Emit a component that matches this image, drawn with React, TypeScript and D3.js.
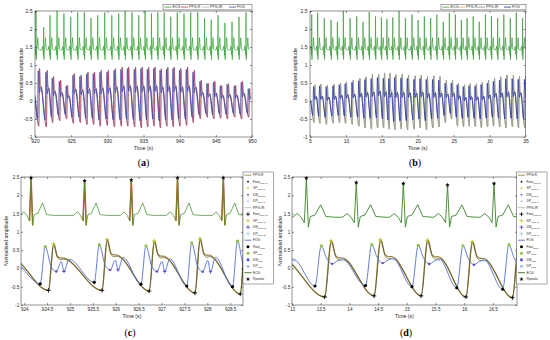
import React, { useEffect, useRef } from 'react';
import * as d3 from 'd3';

type Pt = [number, number];

// ---------- panel (a): 920-950 s ----------
const aRTimes = [919.2, 920.14, 921.2, 922.07, 923.05, 924.0, 924.94, 925.9, 926.82, 927.74, 928.67, 929.64, 930.62, 931.57, 932.46, 933.41, 934.34, 935.22, 936.1, 936.98, 937.86, 938.76, 939.67, 940.6, 941.53, 942.5, 943.45, 944.36, 945.3, 946.25, 947.24, 948.2, 949.17];
const aRAmps = [2.4, 2.5, 2.05, 2.38, 2.5, 2.43, 2.34, 2.46, 2.46, 2.3, 2.38, 2.46, 2.38, 2.43, 2.5, 2.46, 2.38, 2.5, 2.43, 2.46, 2.46, 2.34, 2.46, 2.43, 2.46, 2.46, 2.3, 2.26, 2.38, 2.17, 2.2, 2.34, 2.46];
const aPpgPeaks = [0.55, 0.9, 0.85, 0.68, 0.58, 0.44, 0.76, 0.72, 0.8, 0.8, 0.85, 0.85, 0.9, 0.94, 0.94, 0.94, 0.94, 0.94, 0.94, 0.9, 0.94, 0.94, 0.9, 0.94, 0.85, 0.58, 0.5, 0.55, 0.44, 0.48, 0.44, 0.55, 0.35];
const aPpgFeet = [-0.6, -0.7, -0.72, -0.6, -0.55, -0.5, -0.62, -0.6, -0.65, -0.65, -0.7, -0.68, -0.72, -0.7, -0.7, -0.72, -0.75, -0.72, -0.7, -0.75, -0.7, -0.72, -0.7, -0.68, -0.6, -0.5, -0.45, -0.5, -0.48, -0.5, -0.45, -0.5, -0.45];
const aFogPeaks = [0.5, 0.84, 0.8, 0.64, 0.55, 0.42, 0.72, 0.68, 0.75, 0.76, 0.8, 0.8, 0.85, 0.88, 0.9, 0.88, 0.9, 0.88, 0.9, 0.86, 0.88, 0.9, 0.85, 0.88, 0.8, 0.55, 0.48, 0.52, 0.42, 0.46, 0.42, 0.52, 0.34];
const aFogFeet = [-0.45, -0.5, -0.52, -0.45, -0.4, -0.38, -0.45, -0.45, -0.48, -0.48, -0.52, -0.5, -0.52, -0.52, -0.5, -0.52, -0.55, -0.52, -0.5, -0.55, -0.52, -0.52, -0.5, -0.5, -0.45, -0.38, -0.35, -0.38, -0.36, -0.38, -0.35, -0.38, -0.35];
const aTicks = [920, 925, 930, 935, 940, 945, 950];

// ---------- panel (b): 5-35 s ----------
const bRTimes = [4.4, 5.24, 6.07, 6.99, 7.93, 8.81, 9.64, 10.58, 11.51, 12.38, 13.25, 14.12, 14.94, 15.71, 16.52, 17.4, 18.28, 19.2, 20.05, 20.92, 21.8, 22.66, 23.55, 24.4, 25.23, 26.07, 26.87, 27.72, 28.56, 29.42, 30.26, 31.12, 31.98, 32.88, 33.72, 34.6];
const bRAmps = [2.4, 2.4, 2.45, 2.3, 2.25, 2.2, 2.5, 2.3, 2.35, 2.2, 2.47, 2.35, 2.32, 2.28, 2.32, 2.5, 2.3, 2.4, 2.25, 2.35, 2.3, 2.4, 2.2, 2.45, 2.4, 2.25, 2.3, 2.35, 2.2, 2.4, 2.35, 2.3, 2.4, 2.3, 2.45, 2.3];
const bPpgPeaks = [0.3, 0.45, 0.47, 0.44, 0.47, 0.5, 0.53, 0.58, 0.63, 0.67, 0.75, 0.75, 0.78, 0.77, 0.73, 0.74, 0.72, 0.7, 0.72, 0.68, 0.7, 0.68, 0.58, 0.58, 0.5, 0.45, 0.48, 0.48, 0.52, 0.58, 0.63, 0.67, 0.72, 0.72, 0.68, 0.7];
const bPpgFeet = [-0.55, -0.6, -0.62, -0.65, -0.62, -0.6, -0.62, -0.65, -0.7, -0.75, -0.78, -0.75, -0.75, -0.78, -0.8, -0.78, -0.8, -0.78, -0.75, -0.8, -0.75, -0.72, -0.6, -0.5, -0.7, -0.72, -0.7, -0.72, -0.75, -0.72, -0.7, -0.72, -0.75, -0.72, -0.75, -0.75];
const bFogPeaks = [0.25, 0.4, 0.42, 0.4, 0.42, 0.45, 0.48, 0.52, 0.56, 0.6, 0.62, 0.65, 0.63, 0.62, 0.65, 0.64, 0.63, 0.6, 0.62, 0.6, 0.6, 0.58, 0.5, 0.5, 0.45, 0.4, 0.42, 0.42, 0.46, 0.5, 0.55, 0.58, 0.62, 0.62, 0.6, 0.6];
const bFogFeet = [-0.45, -0.4, -0.42, -0.45, -0.42, -0.4, -0.42, -0.45, -0.45, -0.48, -0.48, -0.47, -0.5, -0.53, -0.57, -0.55, -0.55, -0.52, -0.5, -0.55, -0.5, -0.48, -0.4, -0.35, -0.45, -0.48, -0.45, -0.48, -0.5, -0.48, -0.45, -0.48, -0.5, -0.48, -0.5, -0.5];
const bTicks = [5, 10, 15, 20, 25, 30, 35];

// ---------- panel (c): zoom on 924-928.8 s ----------
const cRTimes = [923.1, 924.15, 925.32, 926.34, 927.35, 928.35];
const cRAmps = [2.4, 2.48, 2.4, 2.42, 2.48, 2.48];
const cFogFootT = [923.07, 924.35, 925.53, 926.55, 927.55, 928.55];
const cFogLow = [-0.4, -0.42, -0.38, -0.43, -0.48, -0.5];
const cFogHigh = [0.6, 0.6, 0.65, 0.62, 0.7, 0.75];
const cPpgFootT = [923.4, 924.53, 925.7, 926.73, 927.73, 928.72];
const cPpgLow = [-0.6, -0.6, -0.6, -0.62, -0.67, -0.7];
const cPpgHigh = [0.7, 0.67, 0.79, 0.75, 0.81, 0.8];
const cTicks = [924, 924.5, 925, 925.5, 926, 926.5, 927, 927.5, 928, 928.5];

// ---------- panel (d): zoom on 13-16.9 s ----------
const dRTimes = [12.4, 13.25, 14.12, 14.94, 15.71, 16.52];
const dRAmps = [2.35, 2.47, 2.35, 2.32, 2.28, 2.32];
const dFogFootT = [12.55, 13.4, 14.28, 15.09, 15.87, 16.67];
const dFogLow = [-0.5, -0.48, -0.47, -0.5, -0.53, -0.57];
const dFogHigh = [0.62, 0.62, 0.65, 0.63, 0.62, 0.65];
const dPpgFootT = [12.5, 13.57, 14.43, 15.25, 16.03, 16.84];
const dPpgLow = [-0.75, -0.78, -0.75, -0.75, -0.78, -0.8];
const dPpgHigh = [0.75, 0.75, 0.78, 0.77, 0.73, 0.75];
const dTicks = [13, 13.5, 14, 14.5, 15, 15.5, 16, 16.5];

const yTicks = [-1, -0.5, 0, 0.5, 1, 1.5, 2, 2.5];

// beat shapes: [seconds from R / foot, offset from baseline (ECG) or fraction foot->peak (pulse)]
const ecgShape: [number, number | null][] = [
  [-0.24, 0], [-0.16, 0.1], [-0.09, 0], [-0.035, -0.15], [0, null], [0.035, -0.27],
  [0.07, 0.02], [0.15, 0.06], [0.25, 0.34], [0.34, 0.02], [0.5, 0],
];
const ppgShape: Pt[] = [[0, 0], [0.11, 1], [0.19, 0.74], [0.25, 0.7], [0.3, 0.7]];
const irShape: Pt[] = [[0, 0], [0.12, 1], [0.2, 0.7], [0.26, 0.66], [0.32, 0.67]];
const fogShape: Pt[] = [[0, 0], [0.11, 1], [0.2, 0.7], [0.3, 0.55], [0.4, 0.63], [0.48, 0.66]];
const fogShapeC: Pt[] = [[0, 0], [0.11, 1], [0.24, 0.45], [0.35, 0.33], [0.46, 0.59], [0.52, 0.33], [0.63, 0.66]];

const FONT = 'Liberation Sans, Arial, Helvetica, sans-serif';
const INK = '#262626';

function buildEcg(rt: number[], amp: number[], base: number): Pt[] {
  const pts: Pt[] = [];
  rt.forEach((t, i) => ecgShape.forEach(([dt, dv]) => pts.push([t + dt, dv === null ? amp[i] : base + dv])));
  return pts.sort((a, b) => a[0] - b[0]);
}

function buildPulse(feet: number[], lo: number[], hi: number[], shape: Pt[]): Pt[] {
  const pts: Pt[] = [];
  feet.forEach((t, i) => shape.forEach(([dt, f]) => pts.push([t + dt, lo[i] + f * (hi[i] - lo[i])])));
  return pts.sort((a, b) => a[0] - b[0]);
}

// points of one shape index for every beat (used for the fiducial markers)
function shapePts(feet: number[], lo: number[], hi: number[], shape: Pt[], k: number): Pt[] {
  return feet.map((t, i) => [t + shape[k][0], lo[i] + shape[k][1] * (hi[i] - lo[i])] as Pt);
}

function makePanel(svg: any, p: any) {
  const x = d3.scaleLinear().domain(p.xDom).range([p.left, p.right]);
  const y = d3.scaleLinear().domain([-1, 2.5]).range([p.bottom, p.top]);
  svg.append('clipPath').attr('id', 'clip' + p.key).append('rect')
    .attr('x', p.left).attr('y', p.top).attr('width', p.right - p.left).attr('height', p.bottom - p.top);
  const plot = svg.append('g').attr('clip-path', `url(#clip${p.key})`);
  const path = (pts: Pt[], color: string, w: number, curve: any = d3.curveMonotoneX) => {
    const line = d3.line<Pt>().x(d => x(d[0])).y(d => y(d[1])).curve(curve);
    plot.append('path').attr('d', line(pts)).attr('fill', 'none').attr('stroke', color)
      .attr('stroke-width', w).attr('stroke-linejoin', 'round');
  };
  const marks = (pts: Pt[], kind: string, color: string, s: number) => {
    const inside = pts.filter(d => d[0] >= p.xDom[0] && d[0] <= p.xDom[1]);
    inside.forEach(([t, v]) => {
      const cx = x(t), cy = y(v);
      if (kind === 'plus') {
        svg.append('path').attr('d', `M${cx - s},${cy}H${cx + s}M${cx},${cy - s}V${cy + s}`)
          .attr('stroke', color).attr('stroke-width', 0.9).attr('fill', 'none');
      } else if (kind === 'star') {
        svg.append('path').attr('d', d3.symbol().type(d3.symbolStar).size(s)())
          .attr('transform', `translate(${cx},${cy})`).attr('fill', color);
      } else {
        svg.append('circle').attr('cx', cx).attr('cy', cy).attr('r', s).attr('fill', color);
      }
    });
  };
  return { x, y, path, marks };
}

function drawAxes(svg: any, x: any, y: any, p: any) {
  const g = svg.append('g');
  const style = (sel: any) => {
    sel.select('.domain').remove();
    sel.selectAll('line').attr('stroke', INK).attr('stroke-width', 0.5);
    sel.selectAll('text').attr('font-size', p.fs).attr('font-family', FONT).attr('fill', INK);
  };
  g.append('g').attr('transform', `translate(0,${p.bottom})`)
    .call(d3.axisBottom(x).tickValues(p.xTicks).tickSize(-2).tickPadding(p.xPad).tickFormat((d: any) => String(d))).call(style);
  g.append('g').attr('transform', `translate(0,${p.top})`)
    .call(d3.axisTop(x).tickValues(p.xTicks).tickSize(-2).tickFormat(() => '')).call(style);
  g.append('g').attr('transform', `translate(${p.left},0)`)
    .call(d3.axisLeft(y).tickValues(yTicks).tickSize(-2).tickPadding(p.yPad).tickFormat((d: any) => String(d))).call(style);
  g.append('g').attr('transform', `translate(${p.right},0)`)
    .call(d3.axisRight(y).tickValues(yTicks).tickSize(-2).tickFormat(() => '')).call(style);
  g.append('rect').attr('x', p.left).attr('y', p.top).attr('width', p.right - p.left).attr('height', p.bottom - p.top)
    .attr('fill', 'none').attr('stroke', INK).attr('stroke-width', 0.5);
  g.append('text').attr('x', (p.left + p.right) / 2).attr('y', p.xLabelY).attr('text-anchor', 'middle')
    .attr('font-size', p.lfs).attr('font-family', FONT).attr('fill', INK).text('Time (s)');
  g.append('text').attr('transform', `translate(${p.yLabelX},${(p.top + p.bottom) / 2}) rotate(-90)`)
    .attr('text-anchor', 'middle').attr('dy', '0.35em')
    .attr('font-size', p.lfs).attr('font-family', FONT).attr('fill', INK).text('Normalised amplitude');
  const cap = g.append('text').attr('x', p.capX).attr('y', p.capY).attr('text-anchor', 'middle')
    .attr('font-family', 'Liberation Serif, Times New Roman, serif').attr('font-size', 10).attr('fill', '#000');
  cap.append('tspan').text('(');
  cap.append('tspan').attr('font-weight', 'bold').text(p.key);
  cap.append('tspan').text(')');
}

function topLegend(svg: any, x0: number, w: number, items: [string, string, number][]) {
  const g = svg.append('g');
  g.append('rect').attr('x', x0).attr('y', 4.3).attr('width', w).attr('height', 5.6)
    .attr('fill', '#fff').attr('stroke', INK).attr('stroke-width', 0.4);
  items.forEach(([label, color, dx]) => {
    g.append('line').attr('x1', x0 + dx).attr('x2', x0 + dx + 7).attr('y1', 7.1).attr('y2', 7.1)
      .attr('stroke', color).attr('stroke-width', 0.8);
    g.append('text').attr('x', x0 + dx + 8).attr('y', 8.4).attr('font-size', 3.6)
      .attr('font-family', FONT).attr('fill', INK).text(label);
  });
}

type Row = { label: string; sub?: string; kind: string; color: string; s: number };
const sideRows: Row[] = [
  { label: 'PPG-R', kind: 'line', color: '#9c8a3a', s: 0 },
  { label: 'Foot', sub: 'PPG-R', kind: 'dot', color: '#000', s: 0.9 },
  { label: 'SP', sub: 'PPG-R', kind: 'dot', color: '#b9c81a', s: 0.9 },
  { label: 'DN', sub: 'PPG-R', kind: 'dot', color: '#6a3fd0', s: 0.9 },
  { label: 'DP', sub: 'PPG-R', kind: 'dot', color: '#9fb3ff', s: 0.9 },
  { label: 'PPG-IR', kind: 'line', color: '#b8b8b8', s: 0 },
  { label: 'Foot', sub: 'PPG-IR', kind: 'plus', color: '#000', s: 2 },
  { label: 'SP', sub: 'PPG-IR', kind: 'plus', color: '#c9c21a', s: 2 },
  { label: 'DN', sub: 'PPG-IR', kind: 'plus', color: '#5a3fd6', s: 2 },
  { label: 'DP', sub: 'PPG-IR', kind: 'plus', color: '#9fc3ff', s: 2 },
  { label: 'FOG', kind: 'line', color: '#4f6fd0', s: 0 },
  { label: 'Foot', sub: 'FOG', kind: 'dot', color: '#000', s: 1.5 },
  { label: 'SP', sub: 'FOG', kind: 'dot', color: '#8cc63f', s: 1.5 },
  { label: 'DN', sub: 'FOG', kind: 'dot', color: '#4a4adf', s: 1.5 },
  { label: 'DP', sub: 'FOG', kind: 'dot', color: '#a6b7ff', s: 1.5 },
  { label: 'ECG', kind: 'line', color: '#3a6a22', s: 0 },
  { label: 'Rpeaks', kind: 'star', color: '#000', s: 6 },
];

function sideLegend(svg: any, x0: number) {
  const g = svg.append('g');
  const top = 172;
  g.append('rect').attr('x', x0).attr('y', top).attr('width', 30.5).attr('height', 112)
    .attr('fill', '#fff').attr('stroke', INK).attr('stroke-width', 0.4);
  sideRows.forEach((r, i) => {
    const cy = top + 3.2 + i * 6.5;
    const cx = x0 + 5;
    if (r.kind === 'line') {
      g.append('line').attr('x1', x0 + 1.5).attr('x2', x0 + 8.5).attr('y1', cy).attr('y2', cy)
        .attr('stroke', r.color).attr('stroke-width', 0.9);
    } else if (r.kind === 'plus') {
      g.append('path').attr('d', `M${cx - r.s},${cy}H${cx + r.s}M${cx},${cy - r.s}V${cy + r.s}`)
        .attr('stroke', r.color).attr('stroke-width', 0.8);
    } else if (r.kind === 'star') {
      g.append('path').attr('d', d3.symbol().type(d3.symbolStar).size(r.s)())
        .attr('transform', `translate(${cx},${cy})`).attr('fill', r.color);
    } else {
      g.append('circle').attr('cx', cx).attr('cy', cy).attr('r', r.s).attr('fill', r.color);
    }
    const t = g.append('text').attr('x', x0 + 10).attr('y', cy + 1.1).attr('font-size', 3.3)
      .attr('font-family', FONT).attr('fill', INK);
    t.append('tspan').text(r.label);
    if (r.sub) t.append('tspan').attr('font-size', 2.4).attr('dy', 0.9).text(r.sub);
  });
}

const App: React.FC = () => {
  const svgRef = useRef<SVGSVGElement>(null);

  useEffect(() => {
    if (!svgRef.current) return;
    const svg = d3.select(svgRef.current);
    svg.selectAll('*').remove();
    svg.append('rect').attr('width', 550).attr('height', 340).attr('fill', '#fff');

    // ---- (a) ----
    const pa = { key: 'a', left: 35, right: 252, top: 11, bottom: 137, xDom: [920, 950], xTicks: aTicks,
      xPad: 2.2, yPad: 2.5, fs: 5, lfs: 5.4, yLabelX: 21.5, xLabelY: 150, capX: 143.5, capY: 166 };
    const a = makePanel(svg, pa);
    a.path(buildEcg(aRTimes, aRAmps, 1.42), '#34a334', 0.7, d3.curveLinear);
    const aPpgT = aRTimes.map(t => t + 0.38);
    const aFogT = aRTimes.map(t => t + 0.2);
    a.path(buildPulse(aPpgT, aPpgFeet, aPpgPeaks, irShape), '#8fc0cc', 0.8);
    a.path(buildPulse(aPpgT, aPpgFeet, aPpgPeaks, ppgShape), '#b8405a', 0.8);
    a.path(buildPulse(aFogT, aFogFeet, aFogPeaks, fogShape), '#3a3f9f', 0.8);
    drawAxes(svg, a.x, a.y, pa);
    topLegend(svg, 163, 89, [['ECG', '#34a334', 1.5], ['PPG-R', '#cf3b3b', 18], ['PPG-IR', '#b5b5b5', 39], ['FOG', '#3a4fb5', 66]]);

    // ---- (b) ----
    const pb = { key: 'b', left: 310, right: 525.5, top: 11, bottom: 137, xDom: [5, 35], xTicks: bTicks,
      xPad: 2.2, yPad: 2.5, fs: 5, lfs: 5.4, yLabelX: 295, xLabelY: 150, capX: 415, capY: 166 };
    const b = makePanel(svg, pb);
    b.path(buildEcg(bRTimes, bRAmps, 1.42), '#3c9a3c', 0.7, d3.curveLinear);
    const bPpgT = bRTimes.map(t => t + 0.32);
    const bFogT = bRTimes.map(t => t + 0.15);
    b.path(buildPulse(bPpgT, bPpgFeet, bPpgPeaks, ppgShape), '#c8a848', 0.8);
    b.path(buildPulse(bPpgT, bPpgFeet, bPpgPeaks, irShape), '#8c9aa8', 0.8);
    b.path(buildPulse(bFogT, bFogFeet, bFogPeaks, fogShape), '#1f2f9f', 0.8);
    drawAxes(svg, b.x, b.y, pb);
    topLegend(svg, 441, 85, [['ECG', '#3c9a3c', 1.5], ['PPG-R', '#d8b040', 17], ['PPG-IR', '#8a8a8a', 37], ['FOG', '#1f2f9f', 63]]);

    // ---- (c) ----
    const pc = { key: 'c', left: 21, right: 243, top: 177, bottom: 305, xDom: [923.93, 928.78], xTicks: cTicks,
      xPad: 3.2, yPad: 1.8, fs: 4.6, lfs: 5.2, yLabelX: 6, xLabelY: 318, capX: 130, capY: 336 };
    const c = makePanel(svg, pc);
    const cEcg = buildEcg(cRTimes, cRAmps, 1.45);
    // red tint only along the QRS spikes
    cRTimes.forEach(r => c.path(cEcg.filter(d => Math.abs(d[0] - r) < 0.04), '#d84a2a', 1.5, d3.curveLinear));
    c.path(cEcg, '#4a9a30', 0.8, d3.curveLinear);
    c.path(buildPulse(cPpgFootT, cPpgLow, cPpgHigh, ppgShape), '#9a8035', 1.3);
    c.path(buildPulse(cPpgFootT, cPpgLow, cPpgHigh, irShape), '#55582a', 0.7);
    c.path(buildPulse(cFogFootT, cFogLow, cFogHigh, fogShapeC), '#4f6fd0', 0.9);
    c.marks(shapePts(cFogFootT, cFogLow, cFogHigh, fogShapeC, 3), 'dot', '#6a3fd0', 1.2);
    c.marks(shapePts(cFogFootT, cFogLow, cFogHigh, fogShapeC, 5), 'plus', '#6a3fd0', 1.8);
    c.marks(shapePts(cFogFootT, cFogLow, cFogHigh, fogShapeC, 0), 'dot', '#000', 1.6);
    c.marks(shapePts(cFogFootT, cFogLow, cFogHigh, fogShapeC, 1), 'dot', '#8cc63f', 1.6);
    c.marks(shapePts(cPpgFootT, cPpgLow, cPpgHigh, ppgShape, 0), 'plus', '#000', 2.2);
    c.marks(shapePts(cPpgFootT, cPpgLow, cPpgHigh, ppgShape, 1), 'plus', '#c9c21a', 2.2);
    c.marks(shapePts(cPpgFootT, cPpgLow, cPpgHigh, ppgShape, 1), 'dot', '#9acd32', 0.9);
    c.marks(cRTimes.map((t, i) => [t, cRAmps[i]] as Pt), 'star', '#000', 7);
    drawAxes(svg, c.x, c.y, pc);
    sideLegend(svg, 243);

    // ---- (d) ----
    const pd = { key: 'd', left: 292, right: 517, top: 177, bottom: 305, xDom: [13, 16.92], xTicks: dTicks,
      xPad: 3.2, yPad: 1.8, fs: 4.6, lfs: 5.2, yLabelX: 280.5, xLabelY: 318, capX: 406, capY: 336 };
    const dd = makePanel(svg, pd);
    dd.path(buildEcg(dRTimes, dRAmps, 1.4), '#3a8526', 0.9, d3.curveLinear);
    dd.path(buildPulse(dPpgFootT, dPpgLow, dPpgHigh, ppgShape), '#9a8035', 1.3);
    dd.path(buildPulse(dPpgFootT, dPpgLow, dPpgHigh, irShape), '#55582a', 0.7);
    dd.path(buildPulse(dFogFootT, dFogLow, dFogHigh, fogShape), '#4f6fd0', 0.9);
    dd.marks(shapePts(dFogFootT, dFogLow, dFogHigh, fogShape, 3), 'dot', '#6a3fd0', 1.2);
    dd.marks(shapePts(dFogFootT, dFogLow, dFogHigh, fogShape, 5), 'plus', '#8fb0ff', 1.8);
    dd.marks(shapePts(dFogFootT, dFogLow, dFogHigh, fogShape, 0), 'dot', '#000', 1.6);
    dd.marks(shapePts(dFogFootT, dFogLow, dFogHigh, fogShape, 1), 'dot', '#8cc63f', 1.6);
    dd.marks(shapePts(dPpgFootT, dPpgLow, dPpgHigh, ppgShape, 0), 'plus', '#000', 2.2);
    dd.marks(shapePts(dPpgFootT, dPpgLow, dPpgHigh, ppgShape, 1), 'plus', '#c9c21a', 2.2);
    dd.marks(shapePts(dPpgFootT, dPpgLow, dPpgHigh, ppgShape, 1), 'dot', '#9acd32', 0.9);
    dd.marks(dRTimes.map((t, i) => [t, dRAmps[i]] as Pt), 'star', '#000', 7);
    drawAxes(svg, dd.x, dd.y, pd);
    sideLegend(svg, 516.5);
  }, []);

  return <svg ref={svgRef} width={550} height={340} style={{ position: 'absolute', left: 0, top: 0 }} />;
};

export default App;
